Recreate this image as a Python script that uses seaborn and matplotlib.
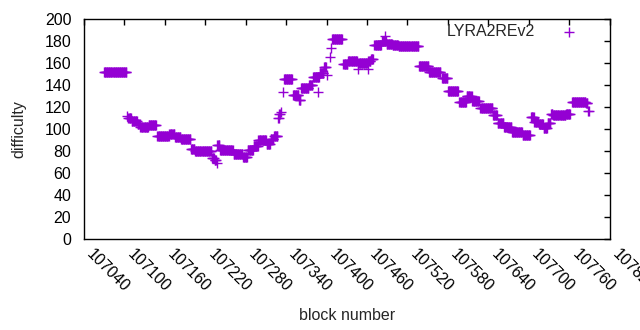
import numpy as np
import pandas as pd
import seaborn as sns
import matplotlib
matplotlib.use("Agg")
import matplotlib.pyplot as plt

# runs of blocks with the same difficulty
run_start = [107070, 107104, 107106, 107111, 107120, 107124, 107136, 107149, 107167, 107175,
             107184, 107199, 107205, 107230, 107234, 107237, 107238, 107242, 107262, 107276,
             107283, 107292, 107299, 107311, 107317, 107322, 107328, 107330, 107333, 107336,
             107337, 107350, 107359, 107362, 107374, 107380, 107387, 107390, 107396, 107401,
             107405, 107407, 107408, 107425, 107432, 107446, 107447, 107461, 107462, 107466,
             107471, 107482, 107486, 107489, 107498, 107507, 107537, 107552, 107571, 107580,
             107597, 107608, 107616, 107628, 107647, 107654, 107663, 107675, 107691, 107703,
             107708, 107715, 107722, 107728, 107733, 107736, 107755, 107764, 107785, 107788]
run_end = [107103, 107104, 107110, 107119, 107123, 107135, 107147, 107166, 107174, 107183,
           107198, 107204, 107229, 107233, 107236, 107237, 107241, 107261, 107275, 107282,
           107291, 107298, 107310, 107316, 107321, 107327, 107329, 107331, 107333, 107336,
           107349, 107358, 107361, 107373, 107379, 107389, 107387, 107395, 107399, 107401,
           107405, 107407, 107423, 107431, 107445, 107446, 107460, 107461, 107465, 107469,
           107481, 107488, 107486, 107497, 107506, 107536, 107551, 107569, 107579, 107595,
           107607, 107615, 107626, 107646, 107653, 107662, 107674, 107690, 107702, 107707,
           107714, 107721, 107727, 107732, 107735, 107754, 107761, 107784, 107787, 107789]
run_value = [152, 112, 110, 108, 105, 102, 104, 94, 96, 93,
             91, 82, 80, 74, 72, 69, 86, 81, 78, 75,
             81, 85, 90, 87, 91, 94, 110, 114, 116, 134,
             146, 131, 127, 138, 140, 148, 134, 151, 157, 149,
             166, 174, 182, 159, 162, 155, 160, 155, 162, 164,
             177, 180, 185, 178, 177, 176, 158, 152, 147, 135,
             125, 130, 126, 119, 113, 106, 102, 98, 95, 111,
             107, 105, 101, 106, 114, 113, 114, 125, 124, 117]

x_ticks = list(range(107040, 107821, 60))
y_ticks = list(range(0, 201, 20))

blocks = []
diffs = []
for s, e, v in zip(run_start, run_end, run_value):
    b = np.arange(s, e + 1)
    blocks.extend(b)
    diffs.extend([v] * len(b))
df = pd.DataFrame({"block": blocks, "difficulty": diffs})

sns.set_style("white")
plt.rcParams["font.family"] = ["Liberation Sans", "DejaVu Sans"]
fs = 11.5

fig = plt.figure(figsize=(6.4, 3.3), dpi=100)
ax = fig.add_axes([0.131, 0.2748, 0.8217, 0.6667])

sns.scatterplot(data=df, x="block", y="difficulty", marker="+", s=45,
                color="#9400D3", linewidth=1.0, label="LYRA2REv2", ax=ax)

ax.set_xlim(107040, 107820)
ax.set_ylim(0, 200)
ax.set_xticks(x_ticks)
ax.set_yticks(y_ticks)
ax.set_xticklabels([str(t) for t in x_ticks], rotation=-45, ha="left", va="bottom",
                   rotation_mode="anchor", fontsize=fs)
ax.set_yticklabels([str(t) for t in y_ticks], fontsize=fs)
ax.tick_params(direction="in", length=4, width=1, top=True, right=True,
               colors="black")
ax.tick_params(axis="y", pad=9)
ax.tick_params(axis="x", pad=13)
for sp in ax.spines.values():
    sp.set_color("black")
    sp.set_linewidth(1)

ax.set_xlabel("block number", fontsize=fs, labelpad=9)
ax.set_ylabel("difficulty", fontsize=fs, labelpad=13)

leg = ax.legend(loc="upper right", frameon=False, markerfirst=False, fontsize=fs,
                handletextpad=1.1, borderaxespad=0, borderpad=0.3,
                bbox_to_anchor=(0.962, 1.0))

fig.savefig("out.png", dpi=100)
